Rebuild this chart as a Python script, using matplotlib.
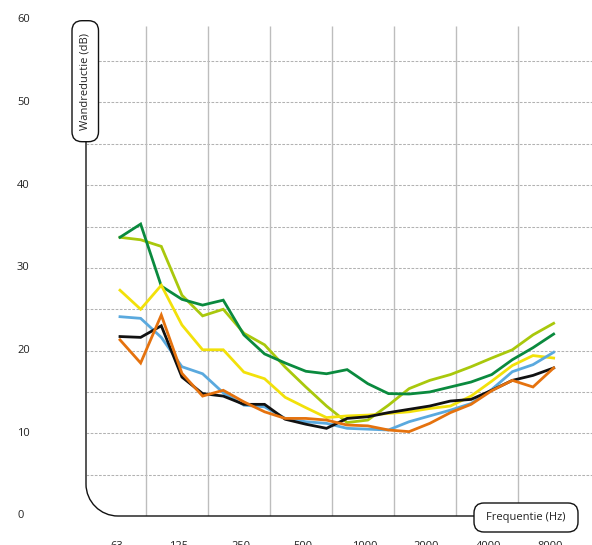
import matplotlib
matplotlib.use("Agg")
import matplotlib.pyplot as plt
import matplotlib.transforms as mtrans
from matplotlib.patches import FancyBboxPatch, PathPatch
from matplotlib.path import Path
import numpy as np

plt.rcParams['font.family'] = ['Open Sans', 'DejaVu Sans']

# ---- data (third-octave bands 63 Hz .. 8000 Hz) ----
bands = [63, 80, 100, 125, 160, 200, 250, 315, 400, 500, 630, 800,
         1000, 1250, 1600, 2000, 2500, 3150, 4000, 5000, 6300, 8000]
tick_labels = ["63", "125", "250", "500", "1000", "2000", "4000", "8000"]
y_ticks = [0, 10, 20, 30, 40, 50, 60]

dark_green = [33.7, 35.3, 27.8, 26.2, 25.5, 26.1, 21.9, 19.6, 18.5, 17.5, 17.2, 17.7,
              16.0, 14.8, 14.75, 15.0, 15.6, 16.2, 17.1, 18.9, 20.35, 22.0]
lime = [33.7, 33.4, 32.6, 26.7, 24.2, 25.0, 22.1, 20.7, 18.0, 15.6, 13.3, 11.3,
        11.6, 13.4, 15.4, 16.4, 17.1, 18.05, 19.1, 20.1, 21.9, 23.3]
yellow = [27.3, 25.0, 27.9, 23.1, 20.1, 20.1, 17.4, 16.6, 14.35, 13.1, 11.9, 12.1,
          12.2, 12.4, 12.6, 13.0, 13.3, 14.5, 16.3, 18.2, 19.4, 19.1]
blue = [24.1, 23.9, 21.6, 18.05, 17.2, 14.9, 13.4, 13.2, 11.8, 11.4, 11.2, 10.6,
        10.5, 10.4, 11.4, 12.1, 12.8, 13.6, 15.3, 17.45, 18.3, 19.8]
black = [21.7, 21.6, 23.0, 16.8, 14.8, 14.5, 13.5, 13.5, 11.7, 11.1, 10.6, 11.8,
         12.0, 12.5, 12.9, 13.3, 13.9, 14.1, 15.2, 16.4, 17.0, 17.9]
orange = [21.3, 18.5, 24.3, 17.25, 14.5, 15.2, 13.8, 12.6, 11.8, 11.8, 11.6, 11.0,
          10.9, 10.4, 10.2, 11.2, 12.5, 13.5, 15.15, 16.4, 15.6, 17.9]

series = [
    (lime, "#a9c80c"),
    (dark_green, "#0a8a3e"),
    (yellow, "#f2e10a"),
    (blue, "#5aa9de"),
    (black, "#111111"),
    (orange, "#e5720e"),
]

W, H = 592, 545
fig = plt.figure(figsize=(W / 100, H / 100), dpi=100)
fig.patch.set_facecolor("white")

# axes: x in band index, y in dB ; pixel 86 -> left, 592 -> right, 516 -> 0 dB, 19.8 -> 60 dB
ax = fig.add_axes([86 / W, (H - 516) / H, (592 - 86) / W, 496.2 / H])
ax.set_xlim(-1.646, 22.857)
ax.set_ylim(0, 60)
ax.axis("off")

x = np.arange(len(bands))

# horizontal dotted gridlines
for v in range(5, 60, 5):
    ax.axhline(v, color="#b2b2b2", lw=0.75, ls=(0, (2.6, 1.4)), zorder=1)
# vertical gridlines (between octave labels)
gx = [1.26 + 3 * j for j in range(7)]
ax.vlines(gx, 0, 59.25, color="#bdbdbd", lw=1.0, zorder=1)

for vals, col in series:
    ax.plot(x, vals, color=col, lw=2.0, solid_joinstyle="miter", zorder=3)

# pixel transform (origin top-left)
px = mtrans.Affine2D().scale(1, -1).translate(0, H)

# left axis line + rounded corner + bottom line
r = 32
k = 0.552 * r
vert = Path([(86, 142), (86, 516 - r)], [Path.MOVETO, Path.LINETO])
fig.add_artist(PathPatch(vert, transform=px, fc="none", ec="#555555", lw=1.4, zorder=2))
curve = Path([(86, 516 - r), (86, 516 - r + k), (86 + r - k, 516), (86 + r, 516), (474, 516)],
             [Path.MOVETO, Path.CURVE4, Path.CURVE4, Path.CURVE4, Path.LINETO])
fig.add_artist(PathPatch(curve, transform=px, fc="none", ec="#111111", lw=1.0, zorder=2))

# label boxes
ybox = FancyBboxPatch((72, 20.7), 26.5, 121, boxstyle="round,pad=0,rounding_size=10",
                      transform=px, fc="white", ec="#111111", lw=1.0, zorder=5)
fig.add_artist(ybox)
fig.text(85.2, 81.2, "Wandreductie (dB)", transform=px, rotation=90, ha="center",
         va="center", fontsize=8, color="#222222", zorder=6)

xbox = FancyBboxPatch((474, 503), 104, 29, boxstyle="round,pad=0,rounding_size=10",
                      transform=px, fc="white", ec="#111111", lw=1.0, zorder=5)
fig.add_artist(xbox)
fig.text(526, 517.5, "Frequentie (Hz)", transform=px, ha="center", va="center",
         fontsize=8, color="#222222", zorder=6)

# y tick labels
ty = mtrans.blended_transform_factory(px, ax.transData)
for v in y_ticks:
    fig.text(17, v, str(v), transform=ty, ha="left", va="center", fontsize=8, color="#222222")

# x tick labels (partly cut off by the figure edge, as in the reference)
tx = mtrans.blended_transform_factory(ax.transData, px)
for j, lab in enumerate(tick_labels):
    fig.text(3 * j - 0.15, 541.0, lab, transform=tx, ha="center", va="top",
             fontsize=8, color="#222222")

fig.savefig("out.png", dpi=100, facecolor="white")
